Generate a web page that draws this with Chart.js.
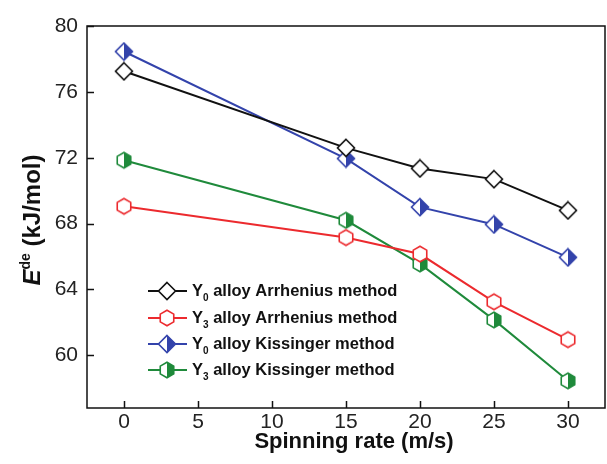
<!DOCTYPE html>
<html>
<head>
<meta charset="utf-8">
<script src="https://cdn.jsdelivr.net/npm/chart.js@4.4.0/dist/chart.umd.min.js"></script>
<style>
html, body { margin: 0; padding: 0; background: #fff; }
#wrap { width: 607px; height: 464px; }
</style>
</head>
<body>
<div id="wrap"><canvas id="chart" width="607" height="464"></canvas></div>
<script>
// values
const spinRates = [0, 15, 20, 25, 30];
const y0Arrhenius = [77.25, 72.6, 71.35, 70.7, 68.8];
const y3Arrhenius = [69.05, 67.15, 66.15, 63.25, 60.95];
const y0Kissinger = [78.45, 71.95, 69.0, 67.95, 65.95];
const y3Kissinger = [71.85, 68.2, 65.55, 62.15, 58.45];

const xTicks = [0, 5, 10, 15, 20, 25, 30];
const yTicks = [60, 64, 68, 72, 76, 80];

const legendSubs = ['0', '3', '0', '3'];
const legendRest = [' alloy Arrhenius method', ' alloy Arrhenius method', ' alloy Kissinger method', ' alloy Kissinger method'];

const FONT = "'Liberation Sans', Arial, sans-serif";
const BLACK = '#111111', RED = '#ec2a2e', BLUE = '#3343ab', GREEN = '#1f8a3b';

function makeMarker(shape, color, half) {
    const s = 20;
    const c = document.createElement('canvas');
    c.width = s; c.height = s;
    const g = c.getContext('2d');
    const cx = s / 2, cy = s / 2;
    g.beginPath();
    if (shape === 'diamond') {
        const r = 8.5;
        g.moveTo(cx, cy - r); g.lineTo(cx + r, cy); g.lineTo(cx, cy + r); g.lineTo(cx - r, cy);
    } else {
        const r = 7.8;
        for (let i = 0; i < 6; i++) {
            const a = -Math.PI / 2 + i * Math.PI / 3;
            const px = cx + r * Math.cos(a), py = cy + r * Math.sin(a);
            if (i === 0) g.moveTo(px, py); else g.lineTo(px, py);
        }
    }
    g.closePath();
    g.fillStyle = '#fff';
    g.fill();
    if (half) {
        g.save();
        g.clip();
        g.fillStyle = color;
        g.fillRect(cx, 0, s, s);
        g.restore();
    }
    g.lineWidth = 1.6;
    g.strokeStyle = color;
    g.stroke();
    return c;
}

const markers = [
    makeMarker('diamond', BLACK, false),
    makeMarker('hex', RED, false),
    makeMarker('diamond', BLUE, true),
    makeMarker('hex', GREEN, true)
];
const colors = [BLACK, RED, BLUE, GREEN];
const seriesData = [y0Arrhenius, y3Arrhenius, y0Kissinger, y3Kissinger];

const datasets = seriesData.map((vals, i) => ({
    data: vals.map((v, j) => ({ x: spinRates[j], y: v })),
    borderColor: colors[i],
    borderWidth: 2,
    pointStyle: markers[i],
    pointRadius: 8,
    tension: 0,
    fill: false
}));

// frame, inward ticks, axis titles and legend
const decorations = {
    id: 'decorations',
    afterDraw(chart) {
        const ctx = chart.ctx;
        const a = chart.chartArea;
        const xs = chart.scales.x, ys = chart.scales.y;
        ctx.save();
        ctx.strokeStyle = '#111';
        ctx.lineWidth = 1.5;
        ctx.strokeRect(a.left, a.top, a.right - a.left, a.bottom - a.top);
        ctx.beginPath();
        xTicks.forEach(v => {
            const px = Math.round(xs.getPixelForValue(v)) + 0.5;
            ctx.moveTo(px, a.bottom); ctx.lineTo(px, a.bottom - 7);
        });
        yTicks.forEach(v => {
            const py = Math.round(ys.getPixelForValue(v)) + 0.5;
            ctx.moveTo(a.left, py); ctx.lineTo(a.left + 7, py);
        });
        ctx.stroke();

        // x title
        ctx.fillStyle = '#111';
        ctx.font = 'bold 22px ' + FONT;
        ctx.textAlign = 'center';
        ctx.textBaseline = 'alphabetic';
        ctx.fillText('Spinning rate (m/s)', (a.left + a.right) / 2 + 8, 448);

        // y title: E^de (kJ/mol)
        ctx.save();
        ctx.translate(40, 220);
        ctx.rotate(-Math.PI / 2);
        ctx.textAlign = 'left';
        const fE = 'italic bold 24px ' + FONT, fSup = 'bold 14px ' + FONT, fMain = 'bold 24px ' + FONT;
        ctx.font = fE; const wE = ctx.measureText('E').width;
        ctx.font = fSup; const wS = ctx.measureText('de').width;
        ctx.font = fMain; const wM = ctx.measureText(' (kJ/mol)').width;
        let x0 = -(wE + wS + wM) / 2;
        ctx.font = fE; ctx.fillText('E', x0, 0);
        ctx.font = fSup; ctx.fillText('de', x0 + wE, -10);
        ctx.font = fMain; ctx.fillText(' (kJ/mol)', x0 + wE + wS, 0);
        ctx.restore();

        // legend
        const rowY = [291, 318, 344, 370];
        rowY.forEach((y, i) => {
            ctx.strokeStyle = colors[i];
            ctx.lineWidth = 2;
            ctx.beginPath();
            ctx.moveTo(148, y); ctx.lineTo(187, y);
            ctx.stroke();
            ctx.drawImage(markers[i], 167 - 10, y - 10);
            ctx.fillStyle = '#111';
            ctx.textAlign = 'left';
            ctx.textBaseline = 'middle';
            ctx.font = 'bold 16.5px ' + FONT;
            ctx.fillText('Y', 192, y);
            const wY = ctx.measureText('Y').width;
            ctx.font = 'bold 10px ' + FONT;
            ctx.fillText(legendSubs[i], 192 + wY, y + 7);
            const wSub = ctx.measureText(legendSubs[i]).width;
            ctx.font = 'bold 16.5px ' + FONT;
            ctx.fillText(legendRest[i], 192 + wY + wSub, y);
        });
        ctx.restore();
    }
};

new Chart(document.getElementById('chart'), {
    type: 'line',
    data: { datasets: datasets },
    options: {
        responsive: false,
        animation: false,
        layout: { autoPadding: false, padding: { left: 0, top: 26, right: 2, bottom: 0 } },
        plugins: { legend: { display: false }, tooltip: { enabled: false } },
        scales: {
            x: {
                type: 'linear',
                min: -2.5,
                max: 32.5,
                grid: { display: false, drawTicks: false },
                border: { display: false },
                afterBuildTicks: s => { s.ticks = xTicks.map(v => ({ value: v })); },
                afterFit: s => { s.height = 56; },
                ticks: { color: '#222', font: { family: FONT, size: 21 }, padding: 2, maxRotation: 0, autoSkip: false }
            },
            y: {
                min: 56.8,
                max: 80,
                grid: { display: false, drawTicks: false },
                border: { display: false },
                afterBuildTicks: s => { s.ticks = yTicks.map(v => ({ value: v })); },
                afterFit: s => { s.width = 87; },
                ticks: { color: '#222', font: { family: FONT, size: 21 }, padding: 9 }
            }
        }
    },
    plugins: [decorations]
});
</script>
</body>
</html>
